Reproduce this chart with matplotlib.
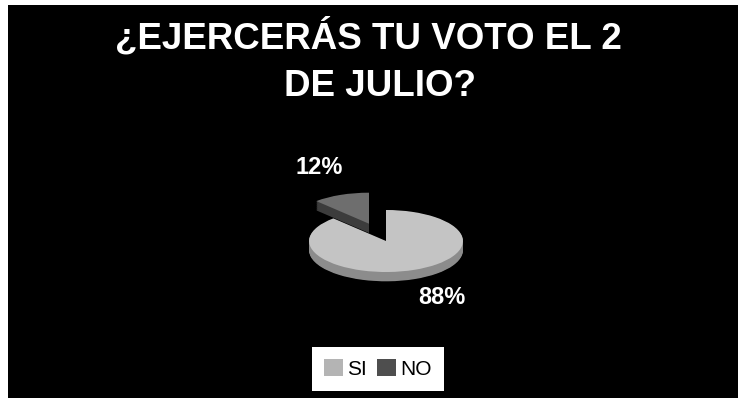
import numpy as np
import matplotlib
matplotlib.use("Agg")
import matplotlib.pyplot as plt
import matplotlib.patches as patches

plt.rcParams['font.family'] = ['Liberation Sans', 'DejaVu Sans']

# survey answers
labels = ['SI', 'NO']
shares = [88, 12]
face_colors = ['#c4c4c4', '#6e6e6e']
side_colors = ['#8c8c8c', '#3c3c3c']
explode = [0.0, 0.6]

W, H = 738, 398
fig = plt.figure(figsize=(W / 100, H / 100), dpi=100)
fig.patch.set_facecolor('white')

# black slide background (small white margin top and left)
bg = patches.Rectangle((8 / W, 0), 1 - 8 / W, 1 - 5 / H, transform=fig.transFigure,
                       facecolor='black', edgecolor='none', zorder=-5)
fig.patches.append(bg)

fig.text(368 / W, 1 - 37 / H, '¿EJERCERÁS TU VOTO EL 2', color='white',
         fontsize=26.5, fontweight='bold', ha='center', va='center')
fig.text(380 / W, 1 - 87 / H, 'DE JULIO?', color='white',
         fontsize=26.5, fontweight='bold', ha='center', va='center')

# pie axes: x scale ~77 px/unit, y squashed to ~31 px/unit
ax = fig.add_axes([286 / W, 1 - 321 / H, 200 / W, 160 / H])
ax.set_facecolor('none')

depth = 0.3
steps = 14
for k in range(steps, -1, -1):
    off = -depth * k / steps
    cols = side_colors if k > 0 else face_colors
    ax.pie(shares, colors=cols, startangle=90, counterclock=False,
           explode=explode, center=(0, off),
           wedgeprops=dict(linewidth=0, edgecolor='none'))

ax.set_aspect('auto')
ax.set_xlim(-1.3, 1.3)
ax.set_ylim(-2.58, 2.58)
ax.axis('off')

# percentage labels
fig.text(319 / W, 1 - 167 / H, f'{shares[1]}%', color='white', fontsize=17,
         fontweight='bold', ha='center', va='center')
fig.text(442 / W, 1 - 297 / H, f'{shares[0]}%', color='white', fontsize=17,
         fontweight='bold', ha='center', va='center')

handles = [patches.Patch(facecolor=c, edgecolor='none') for c in ['#b4b4b4', '#4e4e4e']]
leg = fig.legend(handles, labels, loc='center', bbox_to_anchor=(378 / W, 1 - 369 / H),
                 ncol=2, frameon=True, fancybox=False, fontsize=15, framealpha=1,
                 handlelength=0.9, handleheight=0.9, handletextpad=0.2,
                 columnspacing=0.5, borderpad=0.6)
leg.get_frame().set_facecolor('white')
leg.get_frame().set_edgecolor('white')
leg.get_frame().set_linewidth(0)

fig.savefig('out.png', dpi=100, facecolor=fig.get_facecolor())
